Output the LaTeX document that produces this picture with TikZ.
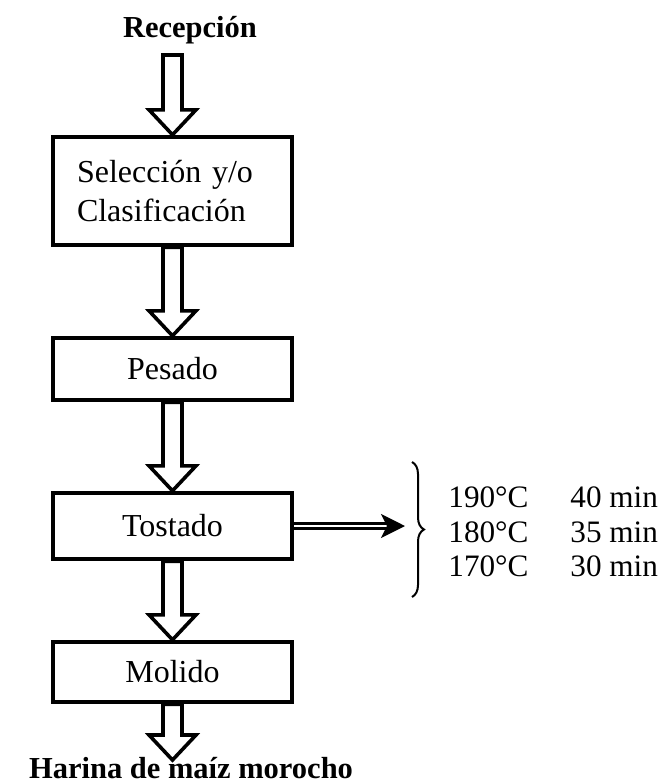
\documentclass[tikz,border=0pt]{standalone}
\usepackage{fontspec}
\setmainfont{Liberation Serif}
\usetikzlibrary{calc,arrows.meta,decorations.pathreplacing}
\tikzset{
	caja/.style={draw, line width=2.2pt, minimum width=119.5pt, inner sep=0pt},
	texto/.style={font=\fontsize{16}{19.5}\selectfont},
	titulo/.style={font=\fontsize{15.25}{19.5}\selectfont\bfseries},
	dato/.style={font=\fontsize{15.6}{19.5}\selectfont, inner sep=0pt, anchor=west},
	hueca/.style={line width=1.8pt, line join=miter},
	doble/.style={double, double distance=1pt, line width=1.5pt, -{Stealth[length=12pt,width=12pt,inset=3pt]}},
	llaves/.style={decorate, decoration={brace, amplitude=6pt}, line width=1pt},
}
\newcommand{\flechahueca}[2]{%
	\draw[hueca] let \p1=(#1), \p2=(#2) in (\x1-4.75pt,\y1) -- (\x1-4.75pt,\y2+12.5pt) -- (\x1-11.75pt,\y2+12.5pt) -- (\x1,\y2) -- (\x1+11.75pt,\y2+12.5pt) -- (\x1+4.75pt,\y2+12.5pt) -- (\x1+4.75pt,\y1) -- cycle;}
\begin{document}
\begin{tikzpicture}[x=0.5pt,y=-0.5pt]
		\useasboundingbox (0,0) rectangle (665,782);
		\node[titulo, anchor=base] (recepcion) at (190,37) {Recepción};
		\coordinate (inicio) at (172.5,55);
		\node[caja, texto, minimum height=54pt, text width=95.5pt, align=left] (seleccion) at (172.5,191) {Selección y/o\\Clasificación};
		\node[caja, texto, minimum height=31pt] (pesado) at (172.5,369) {Pesado};
		\node[caja, texto, minimum height=33pt] (tostado) at (172.5,526) {Tostado};
		\node[caja, texto, minimum height=30pt] (molido) at (172.5,672) {Molido};
		\coordinate (fin) at (172.5,760);
		\node[titulo, anchor=base] (harina) at (191,778) {Harina de maíz morocho};
		
		\flechahueca{inicio}{seleccion.north}
		\flechahueca{seleccion.south}{pesado.north}
		\flechahueca{pesado.south}{tostado.north}
		\flechahueca{tostado.south}{molido.north}
		\flechahueca{molido.south}{fin}
		
		\coordinate (llave) at (405,526);
		\draw[doble] (tostado.east) -- (llave);
		\draw[llaves] (412,462) -- (412,597);
		
		\node[dato] (t190) at (448,497) {190°C};
		\node[dato] (t180) at (448,532) {180°C};
		\node[dato] (t170) at (448,566) {170°C};
		\node[dato] (m40) at (570,497) {40 min};
		\node[dato] (m35) at (570,532) {35 min};
		\node[dato] (m30) at (570,566) {30 min};
	\end{tikzpicture}
\end{document}
